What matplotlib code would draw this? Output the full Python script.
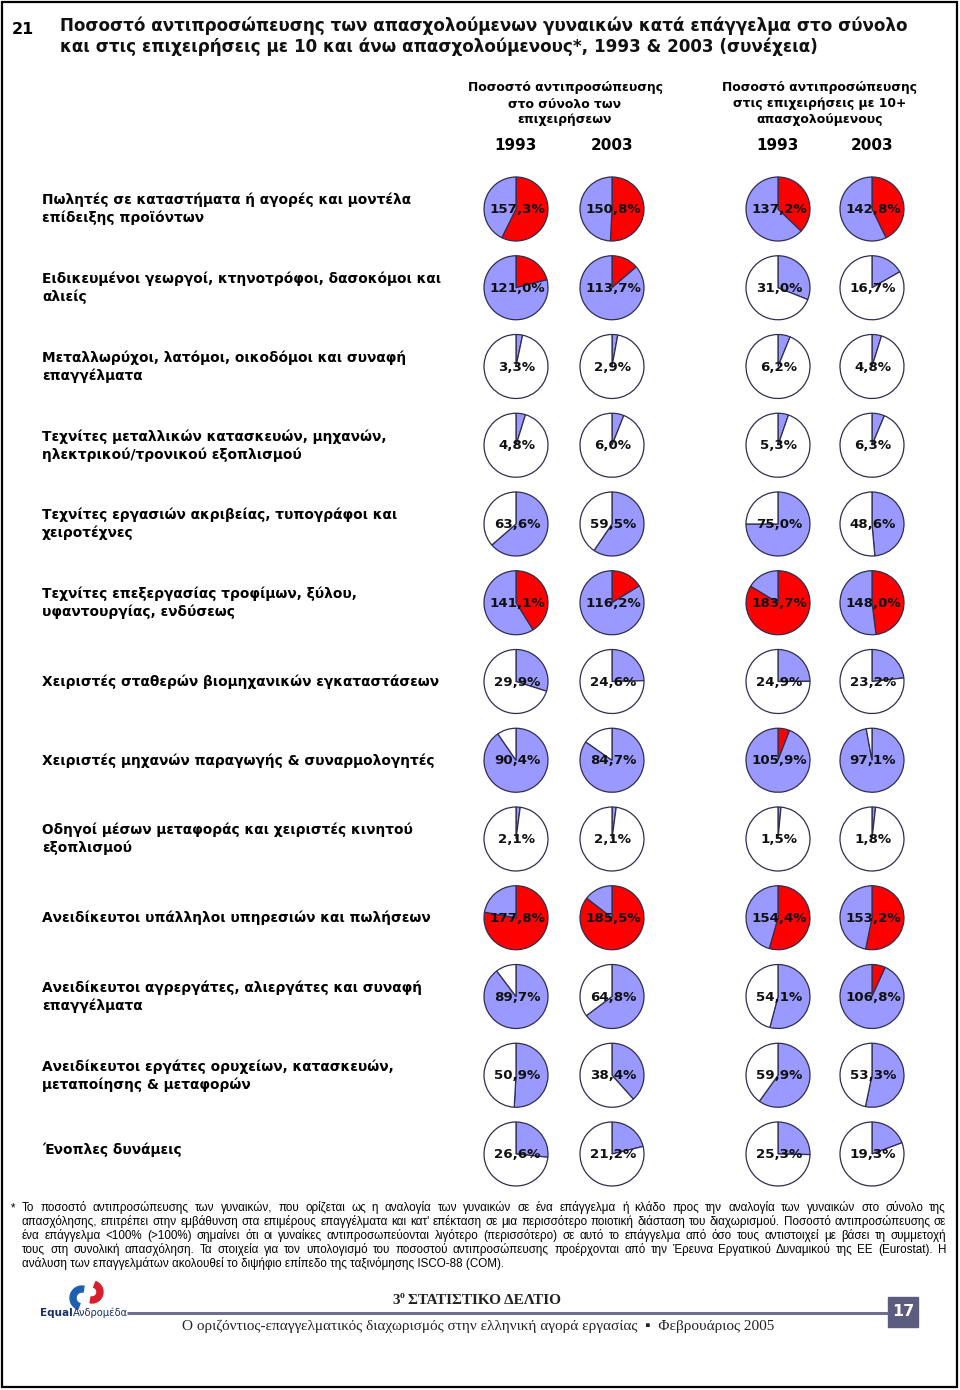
import matplotlib
matplotlib.use("Agg")
import matplotlib.pyplot as plt
from matplotlib import font_manager
from matplotlib.patches import Rectangle, Wedge

# ---------------- data ----------------
row_labels = [
    "Πωλητές σε καταστήματα ή αγορές και μοντέλα\nεπίδειξης προϊόντων",
    "Ειδικευμένοι γεωργοί, κτηνοτρόφοι, δασοκόμοι και\nαλιείς",
    "Μεταλλωρύχοι, λατόμοι, οικοδόμοι και συναφή\nεπαγγέλματα",
    "Τεχνίτες μεταλλικών κατασκευών, μηχανών,\nηλεκτρικού/τρονικού εξοπλισμού",
    "Τεχνίτες εργασιών ακριβείας, τυπογράφοι και\nχειροτέχνες",
    "Τεχνίτες επεξεργασίας τροφίμων, ξύλου,\nυφαντουργίας, ενδύσεως",
    "Χειριστές σταθερών βιομηχανικών εγκαταστάσεων",
    "Χειριστές μηχανών παραγωγής & συναρμολογητές",
    "Οδηγοί μέσων μεταφοράς και χειριστές κινητού\nεξοπλισμού",
    "Ανειδίκευτοι υπάλληλοι υπηρεσιών και πωλήσεων",
    "Ανειδίκευτοι αγρεργάτες, αλιεργάτες και συναφή\nεπαγγέλματα",
    "Ανειδίκευτοι εργάτες ορυχείων, κατασκευών,\nμεταποίησης & μεταφορών",
    "Ένοπλες δυνάμεις",
]
total_1993 = [157.3, 121.0, 3.3, 4.8, 63.6, 141.1, 29.9, 90.4, 2.1, 177.8, 89.7, 50.9, 26.6]
total_2003 = [150.8, 113.7, 2.9, 6.0, 59.5, 116.2, 24.6, 84.7, 2.1, 185.5, 64.8, 38.4, 21.2]
ent10_1993 = [137.2, 31.0, 6.2, 5.3, 75.0, 183.7, 24.9, 105.9, 1.5, 154.4, 54.1, 59.9, 25.3]
ent10_2003 = [142.8, 16.7, 4.8, 6.3, 48.6, 148.0, 23.2, 97.1, 1.8, 153.2, 106.8, 53.3, 19.3]
years = ["1993", "2003"]
group_headers = ["Ποσοστό αντιπροσώπευσης\nστο σύνολο των\nεπιχειρήσεων",
                 "Ποσοστό αντιπροσώπευσης\nστις επιχειρήσεις με 10+\nαπασχολούμενους"]

title_num = "21"
title_lines = ["Ποσοστό αντιπροσώπευσης των απασχολούμενων γυναικών κατά επάγγελμα στο σύνολο",
               "και στις επιχειρήσεις με 10 και άνω απασχολούμενους*, 1993 & 2003 (συνέχεια)"]
footnote_lines = [
    "Το ποσοστό αντιπροσώπευσης των γυναικών, που ορίζεται ως η αναλογία των γυναικών σε ένα επάγγελμα ή κλάδο προς την αναλογία των γυναικών στο σύνολο της",
    "απασχόλησης, επιτρέπει στην εμβάθυνση στα επιμέρους επαγγέλματα και κατ' επέκταση σε μια περισσότερο ποιοτική διάσταση του διαχωρισμού. Ποσοστό αντιπροσώπευσης σε",
    "ένα επάγγελμα <100% (>100%) σημαίνει ότι οι γυναίκες αντιπροσωπεύονται λιγότερο (περισσότερο) σε αυτό το επάγγελμα από όσο τους αντιστοιχεί με βάσει τη συμμετοχή",
    "τους στη συνολική απασχόληση. Τα στοιχεία για τον υπολογισμό του ποσοστού αντιπροσώπευσης προέρχονται από την Έρευνα Εργατικού Δυναμικού της ΕΕ (Eurostat). Η",
    "ανάλυση των επαγγελμάτων ακολουθεί το διψήφιο επίπεδο της ταξινόμησης ISCO-88 (COM).",
]
footer_title = "ΣΤΑΤΙΣΤΙΚΟ ΔΕΛΤΙΟ"
footer_sub = "Ο οριζόντιος-επαγγελματικός διαχωρισμός στην ελληνική αγορά εργασίας  ▪  Φεβρουάριος 2005"
page_no = "17"

LAV = "#9999FF"
RED = "#FF0000"
EDGE = "#2e2e50"

W, H = 960, 1390
fig = plt.figure(figsize=(W / 100, H / 100), dpi=100)
ax = fig.add_axes([0, 0, 1, 1])
ax.set_xlim(0, W)
ax.set_ylim(H, 0)
ax.axis("off")

names = {f.name for f in font_manager.fontManager.ttflist}
narrow = "Liberation Sans Narrow" if "Liberation Sans Narrow" in names else "Liberation Sans"
BOLD = dict(family="DejaVu Sans", fontweight="bold")

# border
ax.add_patch(Rectangle((2, 2), W - 5, H - 5, fill=False, lw=1.6, ec="black"))

# title
ax.text(12, 30, title_num, fontsize=11.5, va="center", ha="left", **BOLD)
ax.text(60, 26, title_lines[0], fontsize=12.1, va="center", ha="left", color="#111111", **BOLD)
ax.text(60, 47, title_lines[1], fontsize=12.1, va="center", ha="left", color="#111111", **BOLD)

# headers
col_x = [516, 612, 778, 872]
group_cx = [565, 820]
for gx, gh in zip(group_cx, group_headers):
    for i, line in enumerate(gh.split("\n")):
        ax.text(gx, 88 + 16 * i, line, fontsize=8.9, ha="center", va="center", **BOLD)
for i, cx in enumerate(col_x):
    ax.text(cx, 146, years[i % 2], fontsize=11, ha="center", va="center", **BOLD)

# rows
row_y0, row_dy = 209, 78.75
R = 32
series = [total_1993, total_2003, ent10_1993, ent10_2003]
for r, lab in enumerate(row_labels):
    cy = row_y0 + r * row_dy
    lines = lab.split("\n")
    off = -4 if r == len(row_labels) - 1 else 0
    for i, line in enumerate(lines):
        yy = cy + off + (i - (len(lines) - 1) / 2) * 18
        ax.text(42, yy, line, fontsize=9.9, ha="left", va="center", **BOLD)
    for c, cx in enumerate(col_x):
        v = series[c][r]
        m = R + 2
        pax = fig.add_axes([(cx - m) / W, 1 - (cy + m) / H, 2 * m / W, 2 * m / H])
        if v < 100:
            vals, cols = [v, 100 - v], [LAV, "white"]
        else:
            vals, cols = [v - 100, 200 - v], [RED, LAV]
        pax.pie(vals, colors=cols, startangle=90, counterclock=False, radius=1,
                wedgeprops=dict(edgecolor=EDGE, linewidth=0.9))
        lim = m / R
        pax.set_xlim(-lim, lim)
        pax.set_ylim(-lim, lim)
        pax.set_aspect("equal")
        pax.axis("off")
        pax.text(0.03, -0.02, f"{v:.1f}%".replace(".", ","), fontsize=9.6, ha="center",
                 va="center", color="#111111", **BOLD)

# footnote (justified)
fig.canvas.draw()
renderer = fig.canvas.get_renderer()
FN = 8.4
ax.text(11, 1208, "*", fontsize=FN, family=narrow, ha="left", va="center")
x_left, x_right = 22, 946
for i, line in enumerate(footnote_lines):
    y = 1208 + 14 * i
    words = line.split(" ")
    if i == len(footnote_lines) - 1:
        ax.text(x_left, y, line, fontsize=FN, family=narrow, ha="left", va="center")
        continue
    objs = [ax.text(0, y, w, fontsize=FN, family=narrow, ha="left", va="center") for w in words]
    widths = [o.get_window_extent(renderer).width for o in objs]
    gap = (x_right - x_left - sum(widths)) / (len(words) - 1)
    x = x_left
    for o, wdt in zip(objs, widths):
        o.set_x(x)
        x += wdt + gap

# footer
SERIF = ["Liberation Serif", "DejaVu Serif"]
ax.add_patch(Wedge((82, 1298), 12, 110, 280, width=6, color="#1f5fb0"))
ax.add_patch(Wedge((92, 1292), 11, -70, 100, width=6, color="#d81e2a"))
t_eq = ax.text(40, 1313, "Equal", fontsize=7.5, fontweight="bold", color="#1a2f6a", ha="left", va="center",
               family="DejaVu Sans")
w_eq = t_eq.get_window_extent(renderer).width
ax.text(40 + w_eq + 0.5, 1313, "Ανδρομέδα", fontsize=7.2, color="#1a2f6a", ha="left", va="center",
        family="DejaVu Sans")
ax.plot([127, 888], [1313, 1313], color="#6e6e8e", lw=2.2, solid_capstyle="butt")
ax.add_patch(Rectangle((888, 1297), 30, 30, color="#5c5c80"))
ax.text(903, 1312, page_no, fontsize=11.5, fontweight="bold", color="white", ha="center", va="center",
        family="DejaVu Sans")
t3 = ax.text(392, 1301, "3", fontsize=11, fontweight="bold", family=SERIF, ha="left", va="center",
             color="#222222")
w3 = t3.get_window_extent(renderer).width
to = ax.text(392 + w3 + 0.5, 1296, "ο", fontsize=7, fontweight="bold", family=SERIF, ha="left",
             va="center", color="#222222")
wo = to.get_window_extent(renderer).width
ax.text(392 + w3 + wo + 4, 1301, footer_title, fontsize=11, fontweight="bold", family=SERIF,
        ha="left", va="center", color="#222222")
ax.text(478, 1326, footer_sub, fontsize=11, family=SERIF + ["DejaVu Sans"], ha="center", va="center",
        color="#222222")

fig.savefig("out.png", dpi=100, facecolor="white")
